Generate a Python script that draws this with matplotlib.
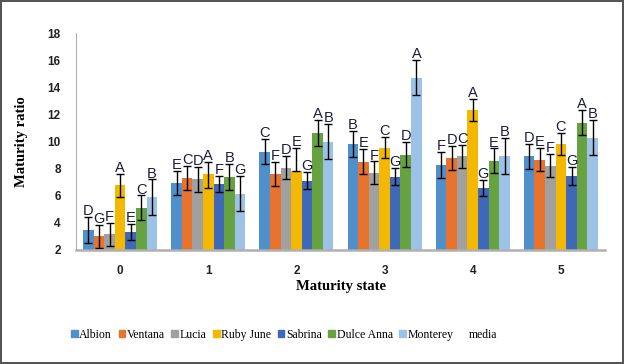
import numpy as np
import matplotlib
matplotlib.use("Agg")
from matplotlib import pyplot as plt
from matplotlib.patches import Patch

states = ["0", "1", "2", "3", "4", "5"]
varieties = ["Albion", "Ventana", "Lucia", "Ruby June", "Sabrina", "Dulce Anna", "Monterey"]
colors = ["#4f8fcc", "#e8732c", "#a0a0a0", "#f5b800", "#3f68b8", "#66a23f", "#9cc2e8"]

# mean maturity ratio per variety, one value per maturity state
albion = [3.46, 6.95, 9.25, 9.82, 8.29, 8.90]
ventana = [3.00, 7.32, 7.60, 8.47, 8.78, 8.66]
lucia = [3.15, 7.20, 8.02, 7.70, 8.90, 8.22]
ruby_june = [6.76, 7.60, 7.83, 9.50, 12.32, 9.80]
sabrina = [3.34, 6.88, 7.11, 7.41, 6.59, 7.44]
dulce_anna = [5.12, 7.41, 10.65, 9.00, 8.59, 11.39]
monterey = [5.90, 6.15, 9.99, 14.70, 8.95, 10.29]

# error bars (lower, upper)
err_lo = [
    [0.95, 0.90, 0.93, 0.95, 0.95, 0.95],
    [0.88, 0.90, 0.88, 0.85, 0.87, 0.87],
    [0.85, 0.90, 0.82, 0.83, 0.83, 0.85],
    [0.85, 1.05, 0.00, 0.75, 0.82, 0.83],
    [0.60, 0.60, 0.63, 0.63, 0.60, 0.65],
    [0.90, 0.95, 0.95, 0.90, 0.90, 0.92],
    [1.30, 1.30, 1.30, 1.30, 1.34, 1.30],
]
err_hi = [
    [0.95, 0.90, 0.93, 0.97, 0.95, 0.95],
    [0.88, 0.90, 0.88, 0.96, 0.87, 0.87],
    [0.85, 0.90, 0.90, 0.83, 0.83, 0.85],
    [0.85, 0.86, 1.67, 0.86, 0.82, 0.83],
    [0.60, 0.60, 0.66, 0.66, 0.60, 0.65],
    [0.90, 0.95, 0.94, 0.94, 0.90, 0.92],
    [1.30, 1.30, 1.30, 1.30, 1.34, 1.30],
]

# significance letters, per variety
letters = [
    ["D", "E", "C", "B", "F", "D"],
    ["G", "C", "F", "E", "D", "E"],
    ["F", "D", "D", "F", "C", "F"],
    ["A", "A", "E", "C", "A", "C"],
    ["E", "F", "G", "G", "G", "G"],
    ["C", "B", "A", "D", "E", "A"],
    ["B", "G", "B", "A", "B", "B"],
]

values = [albion, ventana, lucia, ruby_june, sabrina, dulce_anna, monterey]

fig = plt.figure(figsize=(6.24, 3.64), dpi=100, linewidth=1.6, edgecolor="#555555")
ax = fig.add_axes([0.1218, 0.3132, 0.8478, 0.5961])

x = np.arange(len(states))
w = 0.12
for i, name in enumerate(varieties):
    pos = x + (i - 3) * w
    ax.bar(pos, np.array(values[i]) - 2, w, bottom=2, color=colors[i], label=name)
    ax.errorbar(pos, values[i], yerr=[err_lo[i], err_hi[i]], fmt="none",
                ecolor="black", elinewidth=1, capsize=3, capthick=1)
    for j in range(len(states)):
        ax.text(pos[j], values[i][j] + err_hi[i][j] - 0.08, letters[i][j],
                ha="center", va="bottom", fontsize=10.5, color="#1c1c3c",
                family="Liberation Sans")

ax.set_xlim(-0.5, 5.5)
ax.set_ylim(2, 18)
ax.set_yticks(range(2, 19, 2))
ax.set_xticks(x)
ax.set_xticklabels(states)
ax.tick_params(length=0, labelsize=8.5)
ax.tick_params(axis="x", pad=11)
ax.tick_params(axis="y", pad=11)
for lab in ax.get_xticklabels() + ax.get_yticklabels():
    lab.set_family("Liberation Sans")
    lab.set_fontweight("bold")
    lab.set_color("#222222")
ax.spines["top"].set_visible(False)
ax.spines["right"].set_visible(False)
ax.spines["left"].set_color("#b0b0b0")
ax.spines["left"].set_linewidth(0.8)
ax.spines["bottom"].set_color("#b0b0b0")
ax.spines["bottom"].set_linewidth(1.8)

ax.set_xlabel("Maturity state", family="Liberation Serif", fontweight="bold", fontsize=10.5, labelpad=2)
ax.set_ylabel("Maturity ratio", family="Liberation Serif", fontweight="bold", fontsize=10.5, labelpad=14)

handles = [Patch(color=c) for c in colors] + [Patch(color="none")]
labels = varieties + ["media"]
fig.legend(handles, labels, loc="center", bbox_to_anchor=(0.455, 0.08), ncol=8, frameon=False,
           prop={"family": "Liberation Serif", "size": 8.5}, handlelength=0.55, handleheight=0.55,
           handletextpad=0.15, columnspacing=0.55)

fig.savefig("out.png", dpi=100)
